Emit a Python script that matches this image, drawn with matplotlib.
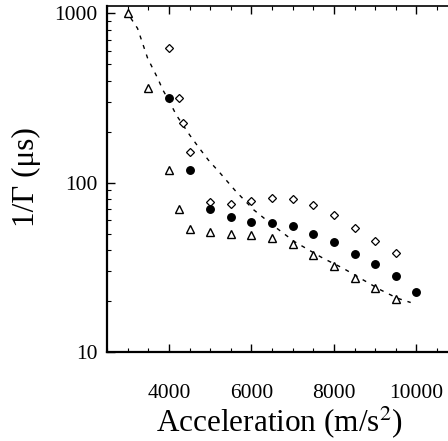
import matplotlib
matplotlib.use("Agg")
import matplotlib.pyplot as plt
from matplotlib.ticker import MultipleLocator, LogLocator, NullFormatter

plt.rcParams['font.family'] = ['Liberation Serif', 'DejaVu Serif']
plt.rcParams['mathtext.fontset'] = 'stix'

# Data
diamond_x = [4000, 4250, 4350, 4500, 5000, 5500, 6000, 6500, 7000, 7500, 8000, 8500, 9000, 9500]
diamond_y = [627, 315, 226, 152, 77.2, 75.3, 78.0, 81.6, 80.1, 73.9, 64.2, 54.0, 45.3, 38.3]

circle_x = [4000, 4500, 5000, 5500, 6000, 6500, 7000, 7500, 8000, 8500, 9000, 9500, 10000]
circle_y = [315, 119, 70.0, 62.5, 58.6, 57.6, 55.7, 49.8, 44.9, 37.9, 33.0, 28.1, 22.7]

triangle_x = [3000, 3500, 4000, 4250, 4500, 5000, 5500, 6000, 6500, 7000, 7500, 8000, 8500, 9000, 9500]
triangle_y = [1000, 361, 119, 70.0, 53.3, 51.0, 49.6, 49.1, 47.4, 43.3, 37.4, 32.2, 27.5, 23.8, 20.5]

fit_x = [3075, 3240, 3485, 3730, 3853, 4015, 4179, 4505, 4711, 4957, 5241, 5609, 6060,
         6509, 7041, 7736, 8226, 8636, 9126, 9533, 9862]
fit_y = [938, 815, 543, 413, 353, 301, 251, 191, 163, 136, 114, 89.7, 69.0,
         56.3, 44.9, 35.8, 31.2, 27.3, 23.3, 20.8, 19.6]

x_ticks = [4000, 6000, 8000, 10000]
y_ticks = [10, 100, 1000]

fig = plt.figure(figsize=(4.48, 4.41), dpi=100)
ax = fig.add_axes([107/448, 1 - 352/441, 1 - 107/448 + 0.01, (352 - 5.5)/441])

ax.plot(fit_x, fit_y, color='black', lw=1.0, linestyle=(0, (2.9, 4.3)), zorder=1)
ax.plot(diamond_x, diamond_y, linestyle='none', marker='D', markersize=3.8,
        markerfacecolor='white', markeredgecolor='black', markeredgewidth=0.9, zorder=3)
ax.plot(circle_x, circle_y, linestyle='none', marker='o', markersize=5.4,
        markerfacecolor='black', markeredgecolor='black', zorder=3)
ax.plot(triangle_x, triangle_y, linestyle='none', marker='^', markersize=5.8,
        markerfacecolor='white', markeredgecolor='black', markeredgewidth=1.0, zorder=3)

ax.set_yscale('log')
ax.set_xlim(2500, 10875)
ax.set_ylim(10, 1112)

ax.xaxis.set_minor_locator(MultipleLocator(500))
ax.set_xticks(x_ticks)
ax.set_xticklabels([str(v) for v in x_ticks])
ax.set_yticks(y_ticks)
ax.set_yticklabels([str(v) for v in y_ticks])
ax.yaxis.set_minor_locator(LogLocator(base=10, subs=range(2, 10)))
ax.yaxis.set_minor_formatter(NullFormatter())

ax.tick_params(axis='both', which='major', direction='in', length=6, width=1.0, labelsize=15.5)
ax.tick_params(axis='both', which='minor', direction='in', length=3, width=0.8)
ax.tick_params(axis='x', which='both', top=True, bottom=True)
ax.tick_params(axis='x', which='major', pad=23)
ax.tick_params(axis='y', which='both', left=True, right=False)
ax.tick_params(axis='y', which='major', pad=7)

ax.spines['right'].set_visible(False)
ax.spines['left'].set_linewidth(1.6)
ax.spines['bottom'].set_linewidth(1.6)
ax.spines['top'].set_linewidth(1.2)

ax.set_xlabel('Acceleration (m/s$^2$)', fontsize=22.5, labelpad=1)
ax.set_ylabel('1/Γ (μs)', fontsize=22.5, labelpad=5)
ax.yaxis.set_label_coords(-0.19, 0.505)

fig.savefig('out.png', dpi=100)
